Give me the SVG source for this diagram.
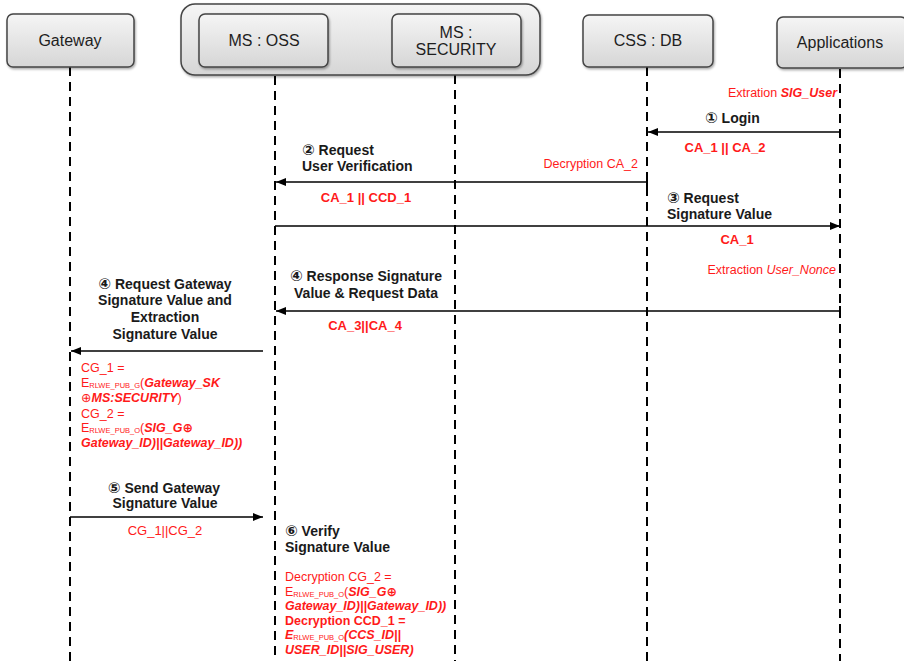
<svg xmlns="http://www.w3.org/2000/svg" width="904" height="661" viewBox="0 0 904 661">
  <defs>
    <linearGradient id="boxFill" x1="0" y1="0" x2="0" y2="1">
      <stop offset="0" stop-color="#f5f5f5"/>
      <stop offset="1" stop-color="#d6d6d6"/>
    </linearGradient>
    <filter id="shadow" x="-10%" y="-10%" width="125%" height="130%">
      <feDropShadow dx="1" dy="1.5" stdDeviation="1" flood-color="#000" flood-opacity="0.35"/>
    </filter>
    <marker id="arrow" markerWidth="11" markerHeight="9" refX="10" refY="4" orient="auto" markerUnits="userSpaceOnUse">
      <path d="M0,0 L10,4 L0,8 z" fill="#000"/>
    </marker>
    <marker id="tick" markerWidth="2" markerHeight="10" refX="1" refY="5" orient="auto" markerUnits="userSpaceOnUse">
      <rect x="0" y="0" width="2" height="10" fill="#000"/>
    </marker>
  </defs>
  <style>
    .box { fill: url(#boxFill); stroke: #444; stroke-width: 1.5; filter: url(#shadow); }
    .hdr { font-family: "Liberation Sans", Arial, sans-serif; font-size: 16px; fill: #1e1e1e; text-anchor: middle; }
    .life { stroke: #000; stroke-width: 2; stroke-dasharray: 9 6; fill: none; }
    .msg { stroke: #000; stroke-width: 1.6; fill: none; }
    .lbl { font-family: "Liberation Sans", "DejaVu Sans", Arial, sans-serif; font-size: 14px; font-weight: bold; fill: #1a1a1a; }
    .num { font-family: "DejaVu Sans", sans-serif; font-size: 15px; font-weight: bold; }
    .red { font-family: "Liberation Sans", "DejaVu Sans", Arial, sans-serif; font-size: 12.5px; fill: #ff1a1a; }
    .redb { font-family: "Liberation Sans", "DejaVu Sans", Arial, sans-serif; font-size: 13px; font-weight: bold; fill: #ff1a1a; }
    .bi { font-weight: bold; font-style: italic; }
    .b { font-weight: bold; }
    .i { font-style: italic; }
    .sub { font-size: 7.5px; font-weight: normal; font-style: normal; }
    .mid { text-anchor: middle; }
    .end { text-anchor: end; }
  </style>

  <!-- lifelines -->
  <g id="lifelines">
    <line class="life" x1="70" y1="67" x2="70" y2="661"/>
    <line class="life" x1="275" y1="76" x2="275" y2="661"/>
    <line class="life" x1="455" y1="75" x2="455" y2="661"/>
    <line class="life" x1="647" y1="67" x2="647" y2="661"/>
    <line class="life" x1="840" y1="69" x2="840" y2="661"/>
  </g>

  <!-- participants -->
  <g id="gateway">
    <rect class="box" x="7" y="14" width="127" height="53" rx="6"/>
    <text class="hdr" x="70" y="46">Gateway</text>
  </g>
  <g id="ms-group">
    <rect class="box" x="181" y="4" width="359" height="71" rx="14"/>
  </g>
  <g id="ms-oss">
    <rect class="box" x="199" y="14" width="129" height="53" rx="6"/>
    <text class="hdr" x="264" y="46">MS : OSS</text>
  </g>
  <g id="ms-security">
    <rect class="box" x="392" y="14" width="129" height="53" rx="6"/>
    <text class="hdr" x="456" y="38">MS :</text>
    <text class="hdr" x="456" y="55">SECURITY</text>
  </g>
  <g id="css-db">
    <rect class="box" x="583" y="15" width="130" height="52" rx="6"/>
    <text class="hdr" x="648" y="46">CSS : DB</text>
  </g>
  <g id="applications">
    <rect class="box" x="777" y="17" width="130" height="51" rx="6"/>
    <text class="hdr" x="840" y="48">Applications</text>
  </g>

  <!-- messages -->
  <g id="connectors">
    <line class="msg" x1="840" y1="132" x2="648" y2="132" marker-end="url(#arrow)"/>
    <line class="msg" x1="647" y1="182" x2="276" y2="182" marker-start="url(#tick)" marker-end="url(#arrow)"/>
    <line class="msg" x1="275" y1="226" x2="840" y2="226" marker-end="url(#arrow)"/>
    <line class="msg" x1="840" y1="311" x2="276" y2="311" marker-start="url(#tick)" marker-end="url(#arrow)"/>
    <line class="msg" x1="263" y1="351" x2="71" y2="351" marker-end="url(#arrow)"/>
    <line class="msg" x1="70" y1="517" x2="263" y2="517" marker-end="url(#arrow)"/>
  </g>

  <!-- step 1 -->
  <g id="step1">
    <text class="red end" x="837" y="97">Extration <tspan class="bi">SIG_User</tspan></text>
    <text class="lbl" x="705" y="123"><tspan class="num">①</tspan> Login</text>
    <text class="redb mid" x="725" y="152">CA_1  || CA_2</text>
  </g>

  <!-- step 2 -->
  <g id="step2">
    <text class="lbl" x="302" y="155"><tspan class="num">②</tspan> Request</text>
    <text class="lbl" x="302" y="171">User Verification</text>
    <text class="red end" x="638" y="168">Decryption CA_2</text>
    <text class="redb mid" x="366" y="202">CA_1  || CCD_1</text>
  </g>

  <!-- step 3 -->
  <g id="step3">
    <text class="lbl" x="667" y="203"><tspan class="num">③</tspan> Request</text>
    <text class="lbl" x="667" y="219">Signature Value</text>
    <text class="redb mid" x="737" y="244">CA_1</text>
  </g>

  <!-- step 4: response -->
  <g id="step4-response">
    <text class="red end" x="836" y="274">Extraction <tspan class="i">User_Nonce</tspan></text>
    <text class="lbl mid" x="366" y="281"><tspan class="num">④</tspan> Response Signature</text>
    <text class="lbl mid" x="366" y="298">Value &amp; Request Data</text>
    <text class="redb mid" x="365" y="330">CA_3||CA_4</text>
  </g>

  <!-- step 4: gateway request -->
  <g id="step4-gateway">
    <text class="lbl mid" x="165" y="289"><tspan class="num">④</tspan> Request Gateway</text>
    <text class="lbl mid" x="165" y="305">Signature Value and</text>
    <text class="lbl mid" x="165" y="322">Extraction</text>
    <text class="lbl mid" x="165" y="339">Signature Value</text>
    <text class="red" x="81" y="372">CG_1 =</text>
    <text class="red" x="81" y="387">E<tspan class="sub" dy="1">RLWE_PUB_G</tspan><tspan dy="-1">(</tspan><tspan class="bi">Gateway_SK</tspan></text>
    <text class="red" x="81" y="402">⊕<tspan class="bi">MS:SECURITY</tspan>)</text>
    <text class="red" x="81" y="418">CG_2 =</text>
    <text class="red" x="81" y="432">E<tspan class="sub" dy="1">RLWE_PUB_O</tspan><tspan dy="-1">(</tspan><tspan class="bi">SIG_G⊕</tspan></text>
    <text class="red bi" x="81" y="447">Gateway_ID)||Gateway_ID))</text>
  </g>

  <!-- step 5 -->
  <g id="step5">
    <text class="lbl mid" x="164" y="493"><tspan class="num">⑤</tspan> Send Gateway</text>
    <text class="lbl mid" x="165" y="508">Signature Value</text>
    <text class="red mid" x="165" y="535" style="font-size:13px">CG_1||CG_2</text>
  </g>

  <!-- step 6 -->
  <g id="step6">
    <text class="lbl" x="285" y="536"><tspan class="num">⑥</tspan> Verify</text>
    <text class="lbl" x="285" y="552">Signature Value</text>
    <text class="red" x="285" y="581">Decryption CG_2 =</text>
    <text class="red" x="285" y="596">E<tspan class="sub" dy="1">RLWE_PUB_O</tspan><tspan dy="-1">(</tspan><tspan class="bi">SIG_G⊕</tspan></text>
    <text class="red bi" x="285" y="610">Gateway_ID)||Gateway_ID))</text>
    <text class="red b" x="285" y="625">Decryption  CCD_1  =</text>
    <text class="red bi" x="285" y="639">E<tspan class="sub" dy="1">RLWE_PUB_O</tspan><tspan dy="-1">(CCS_ID||</tspan></text>
    <text class="red bi" x="285" y="654">USER_ID||SIG_USER)</text>
  </g>
</svg>
